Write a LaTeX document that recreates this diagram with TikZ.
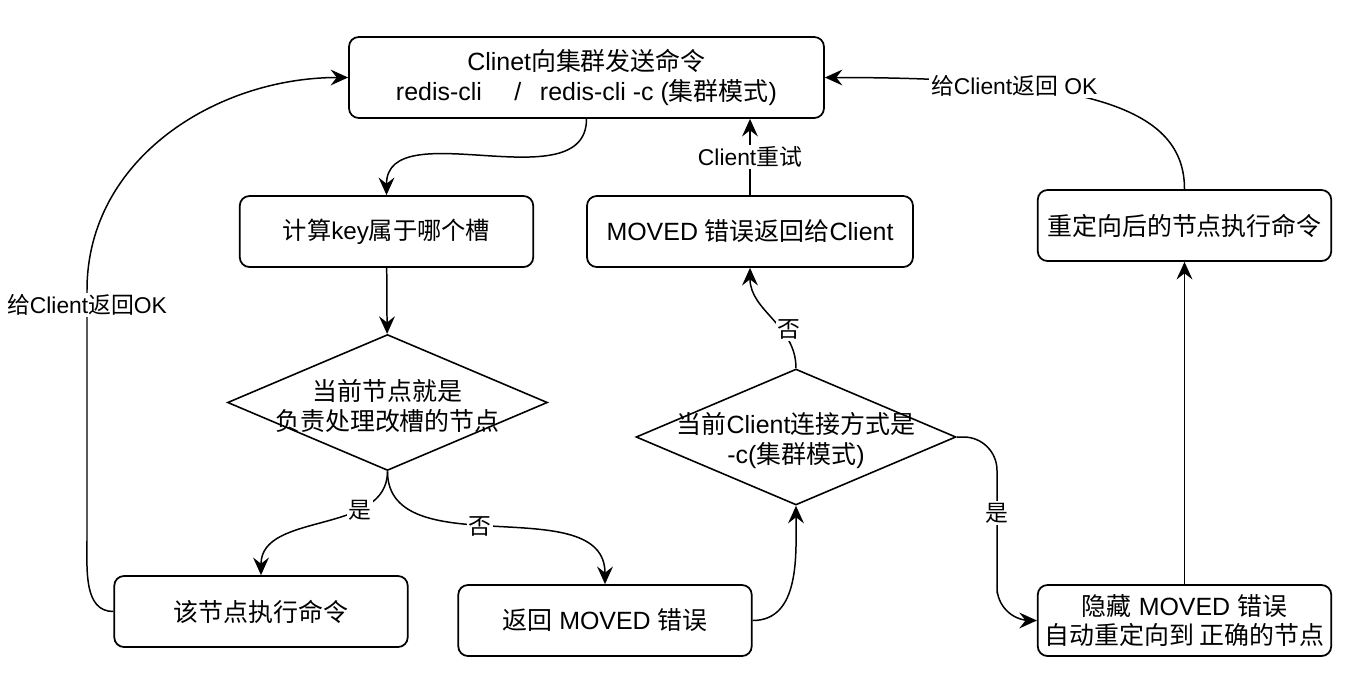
\documentclass[tikz,border=0pt]{standalone}
\usepackage{fontspec}
\setmainfont{Liberation Sans}
\newfontfamily\cjk{Noto Sans CJK SC}
\usepackage{tikz}
\usetikzlibrary{arrows.meta,shapes.geometric}
\newcommand{\zh}[1]{{\cjk #1}}

\begin{document}
\begin{tikzpicture}[x=0.02cm,y=-0.02cm,->,>={Stealth[length=10pt,width=9pt,inset=3.5pt]},line width=0.85pt,
	box node/.style={rectangle,rounded corners=5.5pt,draw,line width=1pt,minimum width=5.87cm,minimum height=1.42cm,align=center,font=\fontsize{14.2}{17}\selectfont},
	decision node/.style={diamond,draw,line width=0.9pt,minimum width=6.4cm,minimum height=2.72cm,inner sep=0pt},
	dtext/.style={align=center,yshift=-2pt,font=\fontsize{14.2}{17}\selectfont},
	edge label/.style={fill=white,inner sep=1pt,font=\fontsize{13}{15}\selectfont}]
	\useasboundingbox (0,0) rectangle (1370,687);

	\node[box node,minimum width=9.5cm,minimum height=1.62cm] (send) at (586.5,77.5) {Clinet\zh{向集群发送命令}\\redis-cli\hspace{1.3em}/\hspace{0.75em}redis-cli -c (\zh{集群模式})};
	\node[box node,font=\fontsize{13.8}{16}\selectfont] (slot) at (386.5,231.5) {\zh{计算}key\zh{属于哪个槽}};
	\node[decision node,label={[dtext]center:{\zh{当前节点就是}\\\zh{负责处理改槽的节点}}}] (owner) at (387.5,402.5) {};
	\node[box node] (exec) at (261,611.5) {\zh{该节点执行命令}};
	\node[box node] (moved) at (605,620.5) {\zh{返回} MOVED \zh{错误}};
	\node[decision node,label={[dtext]center:{\zh{当前}Client\zh{连接方式是}\\-c(\zh{集群模式})}}] (mode) at (796,437) {};
	\node[box node,minimum width=6.52cm] (back) at (750,231.5) {MOVED \zh{错误返回给}Client};
	\node[box node] (redo) at (1184.5,225.5) {\zh{重定向后的节点执行命令}};
	\node[box node] (hide) at (1184.5,620.5) {\zh{隐藏} MOVED \zh{错误}\\\zh{自动重定向到 正确的节点}};

	\path[every node/.style={edge label}]
		(send)	edge [out=-90,in=90] (slot)
		(slot)	edge (owner)
		(owner)	edge [out=-90,in=90] node[pos=0.3] {\zh{是}} (exec)
			edge [out=-90,in=90] node[pos=0.45] {\zh{否}} (moved)
		(moved)	edge [out=0,in=-90] (mode)
		(mode)	edge [out=90,in=-90] node[pos=0.37,xshift=4pt] {\zh{否}} (back)
		(back)	edge node {Client\zh{重试}} (back |- send.south)
		(hide)	edge (redo)
		(redo)	edge [out=90,in=0,out looseness=0.55,in looseness=1.8] node[pos=0.71] {\zh{给}Client\zh{返回} OK} (send);

	\draw (exec.west) to[out=180,in=-90] (87,540) -- node[edge label,pos=0.94] {\zh{给}Client\zh{返回}OK} (87,290) to[out=90,in=180] (send.west);
	\draw[rounded corners=19pt] (mode.east) -| (997,560) |- (hide.west);
	\path (mode.east) -| node[edge label,pos=0.81] {\zh{是}} (997,560);
\end{tikzpicture}
\end{document}
